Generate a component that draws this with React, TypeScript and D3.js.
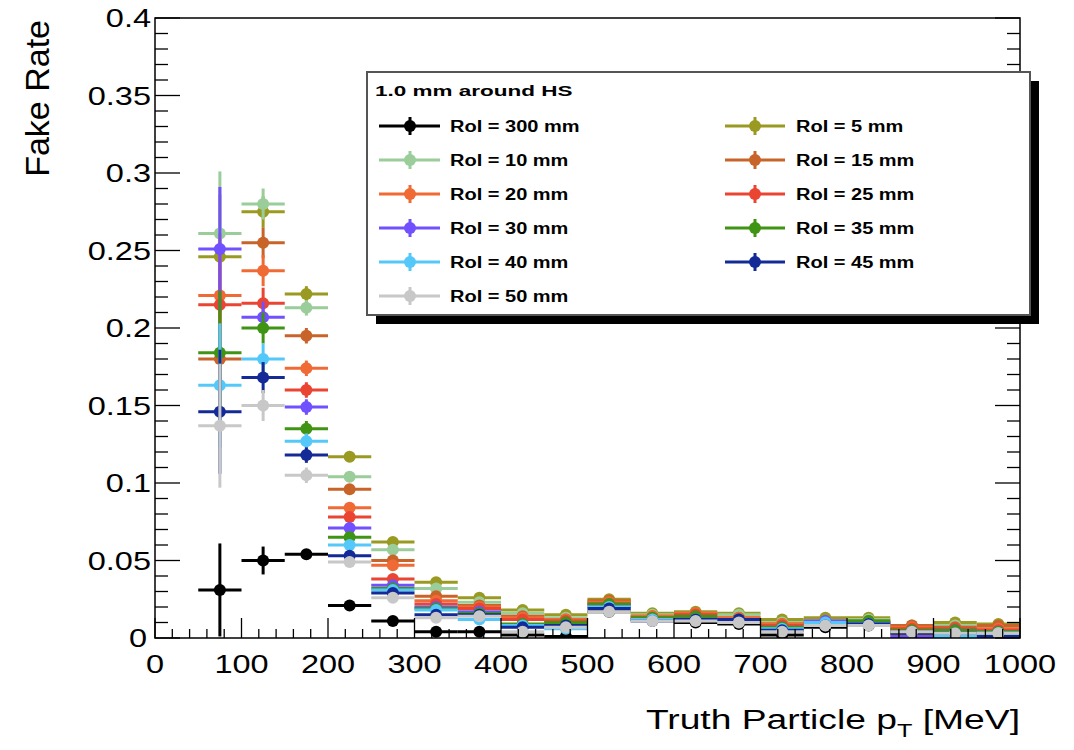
import React from 'react';
import * as d3 from 'd3';

// bin centres in MeV (50 MeV wide bins)
const binCenters = [75, 125, 175, 225, 275, 325, 375, 425, 475, 525, 575, 625, 675, 725, 775, 825, 875, 925, 975];
const halfBin = 25;

const seriesLabels = ['RoI = 300 mm', 'RoI = 5 mm', 'RoI = 10 mm', 'RoI = 15 mm', 'RoI = 20 mm', 'RoI = 25 mm',
  'RoI = 30 mm', 'RoI = 35 mm', 'RoI = 40 mm', 'RoI = 45 mm', 'RoI = 50 mm'];
const seriesColors = ['#000000', '#9a9a22', '#9acd9a', '#c8642a', '#f06a35', '#ea4532',
  '#7050ff', '#3f9414', '#55c8fa', '#142a96', '#c8c8c8'];

const roi300 = [0.031, 0.050, 0.054, 0.021, 0.011, 0.004, 0.004, 0.002, 0.001, 0.017, 0.012, 0.010, 0.009, 0.002, 0.007, 0.008, 0.003, 0.004, 0.003];
const roi5 = [0.246, 0.275, 0.222, 0.117, 0.062, 0.036, 0.026, 0.018, 0.015, 0.025, 0.016, 0.017, 0.016, 0.012, 0.013, 0.013, 0.008, 0.010, 0.009];
const roi10 = [0.261, 0.280, 0.213, 0.104, 0.057, 0.032, 0.023, 0.016, 0.013, 0.023, 0.015, 0.016, 0.015, 0.010, 0.011, 0.012, 0.007, 0.008, 0.007];
const roi15 = [0.180, 0.255, 0.195, 0.096, 0.050, 0.027, 0.021, 0.014, 0.012, 0.024, 0.014, 0.016, 0.013, 0.009, 0.011, 0.011, 0.008, 0.007, 0.008];
const roi20 = [0.221, 0.237, 0.174, 0.084, 0.047, 0.024, 0.020, 0.013, 0.012, 0.023, 0.014, 0.016, 0.013, 0.009, 0.010, 0.010, 0.007, 0.006, 0.006];
const roi25 = [0.215, 0.216, 0.160, 0.078, 0.038, 0.022, 0.019, 0.012, 0.011, 0.022, 0.013, 0.015, 0.012, 0.008, 0.010, 0.010, 0.006, 0.006, 0.005];
const roi30 = [0.251, 0.207, 0.149, 0.071, 0.034, 0.020, 0.017, 0.008, 0.009, 0.021, 0.012, 0.013, 0.011, 0.005, 0.011, 0.010, 0.001, 0.005, 0.004];
const roi35 = [0.184, 0.200, 0.135, 0.065, 0.032, 0.019, 0.016, 0.009, 0.010, 0.022, 0.013, 0.014, 0.012, 0.007, 0.009, 0.011, 0.005, 0.005, 0.004];
const roi40 = [0.163, 0.180, 0.127, 0.060, 0.031, 0.018, 0.012, 0.008, 0.006, 0.020, 0.012, 0.012, 0.011, 0.006, 0.010, 0.009, 0.004, 0.001, 0.003];
const roi45 = [0.146, 0.168, 0.118, 0.053, 0.029, 0.015, 0.015, 0.007, 0.008, 0.019, 0.011, 0.012, 0.012, 0.005, 0.008, 0.009, 0.004, 0.003, 0.001];
const roi50 = [0.137, 0.150, 0.105, 0.049, 0.026, 0.013, 0.014, 0.004, 0.007, 0.017, 0.011, 0.011, 0.010, 0.004, 0.008, 0.008, 0.004, 0.003, 0.003];
const seriesValues = [roi300, roi5, roi10, roi15, roi20, roi25, roi30, roi35, roi40, roi45, roi50];

// statistical errors per bin
const errColored = [0.040, 0.010, 0.005, 0.003, 0.003, 0.002, 0.002, 0.002, 0.002, 0.002, 0.0015, 0.0015, 0.0015, 0.0015, 0.0015, 0.0015, 0.0015, 0.0015, 0.0015];
const errBlack = [0.030, 0.009, 0.003, 0.002, 0.0015, 0.001, 0.001, 0.001, 0.001, 0.002, 0.0015, 0.0015, 0.0015, 0.001, 0.0015, 0.0015, 0.001, 0.001, 0.001];

const yTicks = [0, 0.05, 0.1, 0.15, 0.2, 0.25, 0.3, 0.35, 0.4];
const yTickLabels = ['0', '0.05', '0.1', '0.15', '0.2', '0.25', '0.3', '0.35', '0.4'];
const xTicks = [0, 100, 200, 300, 400, 500, 600, 700, 800, 900, 1000];

const FONT = '"Liberation Sans", Arial, Helvetica, sans-serif';

// text squeezed/stretched horizontally, as in the reference
const STxt = ({ x, y, size, sx = 1.35, anchor = 'start', weight = 'normal', children }: any) => (
  <text
    transform={`translate(${x},${y}) scale(${sx},1)`}
    fontSize={size}
    fontFamily={FONT}
    fontWeight={weight}
    textAnchor={anchor}
    fill="#000"
  >
    {children}
  </text>
);

export default function App() {
  const width = 1074;
  const height = 750;
  const left = 155, right = 1020, top = 18, bottom = 638;

  const x = d3.scaleLinear().domain([0, 1000]).range([left, right]);
  const y = d3.scaleLinear().domain([0, 0.4]).range([bottom, top]);

  const minorY = d3.range(0, 0.4001, 0.01);
  const minorX = d3.range(0, 1000.1, 20);

  // legend geometry
  const lg = { x0: 367, y0: 72, x1: 1030, y1: 315 };
  const rowY = [126, 160, 194, 228, 262, 296];
  const col = [{ mk: 410, l0: 379, l1: 440, tx: 450 }, { mk: 755, l0: 725, l1: 785, tx: 796 }];
  // left column = 300,10,20,30,40,50; right = 5,15,25,35,45
  const legendPos = seriesLabels.map((_, i) => {
    if (i === 0) return { c: 0, r: 0 };
    if (i % 2 === 0) return { c: 0, r: i / 2 };
    return { c: 1, r: (i - 1) / 2 };
  });

  return (
    <svg width={width} height={height} style={{ position: 'absolute', left: 0, top: 0, background: '#fff' }}>
      <defs>
        <clipPath id="plotClip">
          <rect x={left} y={top} width={right - left} height={bottom - top} />
        </clipPath>
      </defs>
      <rect x={0} y={0} width={width} height={height} fill="#fff" />

      {/* data */}
      <g clipPath="url(#plotClip)">
        {seriesValues.map((vals, si) => {
          const errs = si === 0 ? errBlack : errColored;
          const color = seriesColors[si];
          return (
            <g key={si}>
              {vals.map((v, bi) => {
                const c = binCenters[bi];
                return (
                  <g key={bi}>
                    <line x1={x(c - halfBin)} x2={x(c + halfBin)} y1={y(v)} y2={y(v)} stroke={color} strokeWidth={3} />
                    <line x1={x(c)} x2={x(c)} y1={y(Math.max(0, v - errs[bi]))} y2={y(v + errs[bi])} stroke={color} strokeWidth={3} />
                    <circle cx={x(c)} cy={y(v)} r={6} fill={color} />
                  </g>
                );
              })}
            </g>
          );
        })}
      </g>

      {/* frame */}
      <rect x={left} y={top} width={right - left} height={bottom - top} fill="none" stroke="#000" strokeWidth={1.5} />

      {/* y ticks, left and right */}
      {minorY.map((t, i) => {
        const major = i % 5 === 0;
        const len = major ? 25 : 13;
        const yy = y(t);
        return (
          <g key={`yt${i}`}>
            <line x1={left} x2={left + len} y1={yy} y2={yy} stroke="#000" strokeWidth={1.3} />
            <line x1={right - len} x2={right} y1={yy} y2={yy} stroke="#000" strokeWidth={1.3} />
          </g>
        );
      })}
      {/* x ticks */}
      {minorX.map((t, i) => {
        const major = i % 5 === 0;
        const len = major ? 20 : 9;
        const xx = x(t);
        return <line key={`xt${i}`} x1={xx} x2={xx} y1={bottom} y2={bottom - len} stroke="#000" strokeWidth={1.3} />;
      })}

      {/* y tick labels */}
      {yTicks.map((t, i) => (
        <STxt key={`yl${i}`} x={t === 0 ? 147 : 151} y={y(t) + 9} size={25} sx={1.3} anchor="end">
          {yTickLabels[i]}
        </STxt>
      ))}
      {/* x tick labels */}
      {xTicks.map((t) => (
        <STxt key={`xl${t}`} x={x(t)} y={673} size={25} sx={1.3} anchor="middle">
          {t}
        </STxt>
      ))}

      {/* axis titles */}
      <text transform="translate(1020,729) scale(1.33,1)" fontSize={28} fontFamily={FONT} textAnchor="end">
        Truth Particle p<tspan fontSize={19} dy={8}>T</tspan><tspan dy={-8}> [MeV]</tspan>
      </text>
      <text transform="translate(49,20) rotate(-90)" fontSize={34} fontFamily={FONT} textAnchor="end">
        Fake Rate
      </text>

      {/* legend */}
      <rect x={lg.x0 + 9} y={lg.y0 + 9} width={lg.x1 - lg.x0} height={lg.y1 - lg.y0} fill="#000" />
      <rect x={lg.x0} y={lg.y0} width={lg.x1 - lg.x0} height={lg.y1 - lg.y0} fill="#fff" stroke="#555" strokeWidth={2} />
      <STxt x={375} y={96} size={15} sx={1.5} weight="bold">1.0 mm around HS</STxt>
      {seriesLabels.map((lab, i) => {
        const p = legendPos[i];
        const cc = col[p.c];
        const ry = rowY[p.r];
        const color = seriesColors[i];
        return (
          <g key={`lg${i}`}>
            <line x1={cc.l0} x2={cc.l1} y1={ry} y2={ry} stroke={color} strokeWidth={3} />
            <line x1={cc.mk} x2={cc.mk} y1={ry - 9} y2={ry + 9} stroke={color} strokeWidth={3} />
            <circle cx={cc.mk} cy={ry} r={6} fill={color} />
            <STxt x={cc.tx} y={ry + 6} size={16} sx={1.25} weight="bold">{lab}</STxt>
          </g>
        );
      })}
    </svg>
  );
}
